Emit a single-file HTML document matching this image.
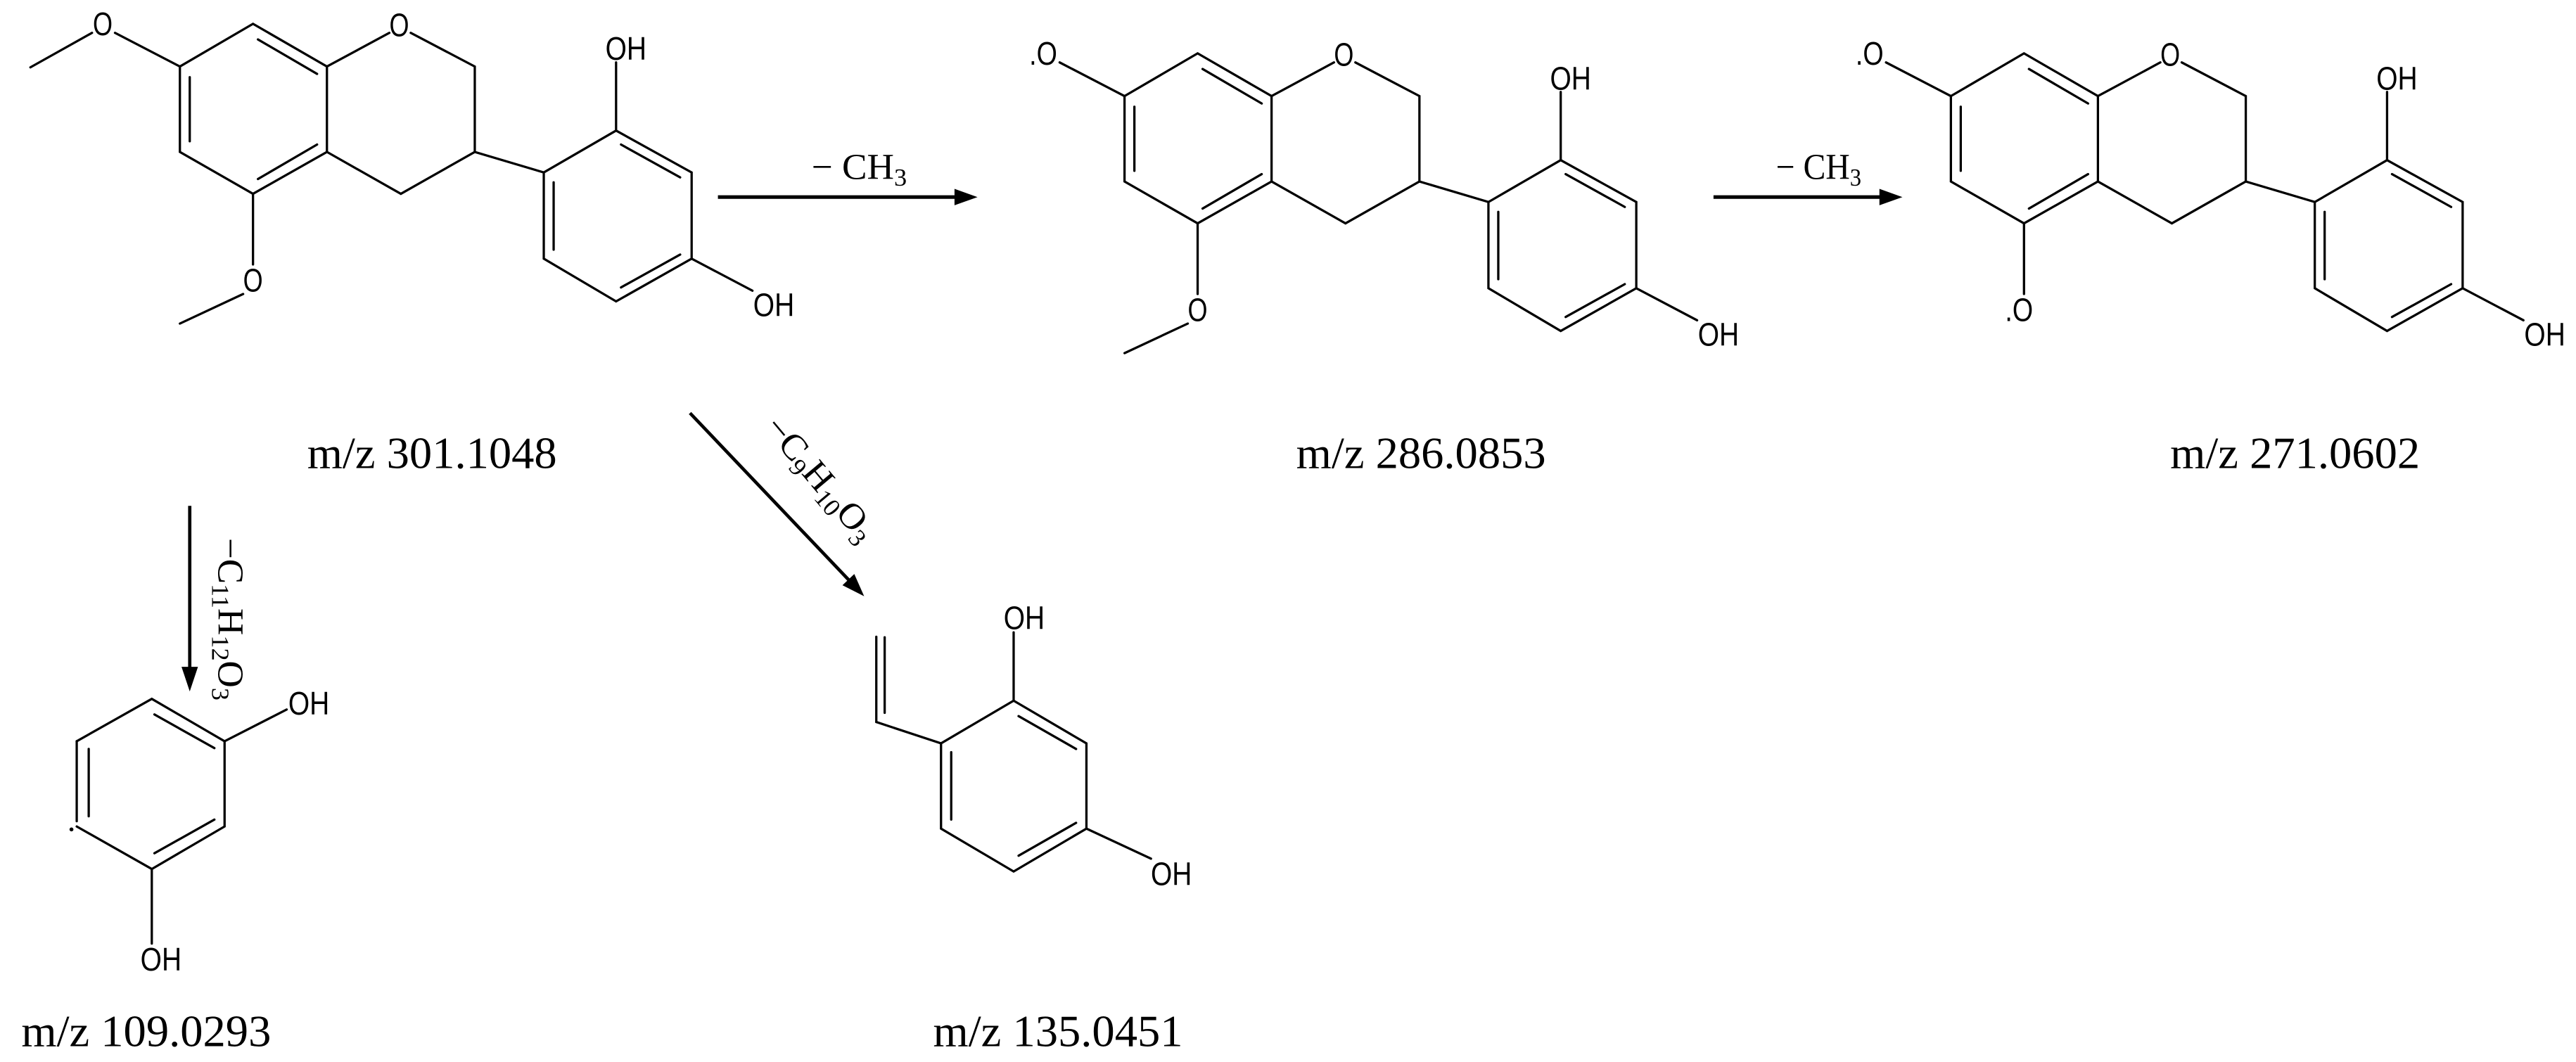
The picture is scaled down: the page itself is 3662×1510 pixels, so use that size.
<!DOCTYPE html>
<html><head><meta charset="utf-8"><style>
html,body{margin:0;padding:0;background:#fff;}
svg{display:block;}
.b line,.b polyline{stroke:#000;stroke-width:1.4;fill:none;stroke-linecap:round;}
.at{font-family:"Liberation Sans",sans-serif;font-size:20px;text-anchor:middle;}
.lb{font-family:"Liberation Serif",serif;font-size:27px;text-anchor:middle;}
.ar{font-family:"Liberation Serif",serif;font-size:22px;}
</style></head><body>
<svg width="3662" height="1510" viewBox="0 0 1568 646.6" preserveAspectRatio="none" xmlns="http://www.w3.org/2000/svg">
<rect width="1568" height="646.6" fill="#fff"/>

<!-- Molecule 1 -->
<g class="b">
<line x1="18.5" y1="41" x2="56" y2="20"/>
<line x1="70" y1="20" x2="109.5" y2="40.5"/>
<polyline points="109.5,40.5 154,14.5 199,40.5 199,92.5 154,118 109.5,92.5 109.5,40.5"/>
<line x1="115.5" y1="47" x2="115.5" y2="86"/>
<line x1="157" y1="24" x2="193" y2="45"/>
<line x1="193" y1="88" x2="157" y2="109"/>
<line x1="199" y1="40.5" x2="237" y2="20"/>
<polyline points="250,20 289,40.5 289,92.5 244,118 199,92.5"/>
<line x1="289" y1="92.5" x2="331" y2="105"/>
<polyline points="331,105 375,79.5 421,105 421,157.5 375,183.5 331,157.5 331,105"/>
<line x1="378" y1="88" x2="414" y2="108"/>
<line x1="337" y1="111" x2="337" y2="152"/>
<line x1="414" y1="155" x2="378" y2="175"/>
<line x1="375" y1="79.5" x2="375" y2="38"/>
<line x1="421" y1="157.5" x2="458" y2="177"/>
<line x1="154" y1="118" x2="154" y2="161"/>
<line x1="148" y1="179" x2="109.5" y2="197"/>
</g>
<text class="at" x="62.5" y="21.5" textLength="12" lengthAdjust="spacingAndGlyphs">O</text>
<text class="at" x="243" y="22" textLength="12" lengthAdjust="spacingAndGlyphs">O</text>
<text class="at" x="154" y="177.5" textLength="12" lengthAdjust="spacingAndGlyphs">O</text>
<text class="at" x="381" y="36.5" textLength="25" lengthAdjust="spacingAndGlyphs">OH</text>
<text class="at" x="471" y="192.5" textLength="25" lengthAdjust="spacingAndGlyphs">OH</text>

<!-- Molecule 2 -->
<g transform="translate(575,18)">
<g class="b">
<line x1="70" y1="20" x2="109.5" y2="40.5"/>
<polyline points="109.5,40.5 154,14.5 199,40.5 199,92.5 154,118 109.5,92.5 109.5,40.5"/>
<line x1="115.5" y1="47" x2="115.5" y2="86"/>
<line x1="157" y1="24" x2="193" y2="45"/>
<line x1="193" y1="88" x2="157" y2="109"/>
<line x1="199" y1="40.5" x2="237" y2="20"/>
<polyline points="250,20 289,40.5 289,92.5 244,118 199,92.5"/>
<line x1="289" y1="92.5" x2="331" y2="105"/>
<polyline points="331,105 375,79.5 421,105 421,157.5 375,183.5 331,157.5 331,105"/>
<line x1="378" y1="88" x2="414" y2="108"/>
<line x1="337" y1="111" x2="337" y2="152"/>
<line x1="414" y1="155" x2="378" y2="175"/>
<line x1="375" y1="79.5" x2="375" y2="38"/>
<line x1="421" y1="157.5" x2="458" y2="177"/>
<line x1="154" y1="118" x2="154" y2="161"/>
<line x1="148" y1="179" x2="109.5" y2="197"/>
</g>
<text class="at" x="60" y="21.5" textLength="17" lengthAdjust="spacingAndGlyphs">.O</text>
<text class="at" x="243" y="22" textLength="12" lengthAdjust="spacingAndGlyphs">O</text>
<text class="at" x="154" y="177.5" textLength="12" lengthAdjust="spacingAndGlyphs">O</text>
<text class="at" x="381" y="36.5" textLength="25" lengthAdjust="spacingAndGlyphs">OH</text>
<text class="at" x="471" y="192.5" textLength="25" lengthAdjust="spacingAndGlyphs">OH</text>
</g>

<!-- Molecule 3 -->
<g transform="translate(1078,18)">
<g class="b">
<line x1="70" y1="20" x2="109.5" y2="40.5"/>
<polyline points="109.5,40.5 154,14.5 199,40.5 199,92.5 154,118 109.5,92.5 109.5,40.5"/>
<line x1="115.5" y1="47" x2="115.5" y2="86"/>
<line x1="157" y1="24" x2="193" y2="45"/>
<line x1="193" y1="88" x2="157" y2="109"/>
<line x1="199" y1="40.5" x2="237" y2="20"/>
<polyline points="250,20 289,40.5 289,92.5 244,118 199,92.5"/>
<line x1="289" y1="92.5" x2="331" y2="105"/>
<polyline points="331,105 375,79.5 421,105 421,157.5 375,183.5 331,157.5 331,105"/>
<line x1="378" y1="88" x2="414" y2="108"/>
<line x1="337" y1="111" x2="337" y2="152"/>
<line x1="414" y1="155" x2="378" y2="175"/>
<line x1="375" y1="79.5" x2="375" y2="38"/>
<line x1="421" y1="157.5" x2="458" y2="177"/>
<line x1="154" y1="118" x2="154" y2="161"/>
</g>
<text class="at" x="60" y="21.5" textLength="17" lengthAdjust="spacingAndGlyphs">.O</text>
<text class="at" x="243" y="22" textLength="12" lengthAdjust="spacingAndGlyphs">O</text>
<text class="at" x="151" y="177.5" textLength="17" lengthAdjust="spacingAndGlyphs">.O</text>
<text class="at" x="381" y="36.5" textLength="25" lengthAdjust="spacingAndGlyphs">OH</text>
<text class="at" x="471" y="192.5" textLength="25" lengthAdjust="spacingAndGlyphs">OH</text>
</g>

<!-- Horizontal arrows -->
<line x1="437" y1="120" x2="584" y2="120" stroke="#000" stroke-width="2.2"/>
<polygon points="595,120 581,115 581,125" fill="#000"/>
<text class="ar" x="494" y="109" textLength="58" lengthAdjust="spacingAndGlyphs">− CH<tspan font-size="15" dy="4">3</tspan></text>
<line x1="1043" y1="120" x2="1147" y2="120" stroke="#000" stroke-width="2.2"/>
<polygon points="1158,120 1144,115 1144,125" fill="#000"/>
<text class="ar" x="1081" y="109" textLength="52" lengthAdjust="spacingAndGlyphs">− CH<tspan font-size="15" dy="4">3</tspan></text>

<!-- Vertical arrow -->
<line x1="115.5" y1="308" x2="115.5" y2="408" stroke="#000" stroke-width="2"/>
<polygon points="115.5,421 110.5,406 120.5,406" fill="#000"/>
<text class="ar" transform="translate(133,377) rotate(90)" x="0" y="0" text-anchor="middle" textLength="99" lengthAdjust="spacingAndGlyphs">−C<tspan font-size="15" dy="4">11</tspan><tspan dy="-4">H</tspan><tspan font-size="15" dy="4">12</tspan><tspan dy="-4">O</tspan><tspan font-size="15" dy="4">3</tspan></text>

<!-- Diagonal arrow -->
<line x1="420" y1="251.5" x2="517" y2="353.5" stroke="#000" stroke-width="2"/>
<polygon points="526,363 512.8,356.3 520,349.5" fill="#000"/>
<text class="ar" transform="translate(494,296) rotate(50)" x="0" y="0" text-anchor="middle" textLength="92" lengthAdjust="spacingAndGlyphs">−C<tspan font-size="15" dy="4">9</tspan><tspan dy="-4">H</tspan><tspan font-size="15" dy="4">10</tspan><tspan dy="-4">O</tspan><tspan font-size="15" dy="4">3</tspan></text>

<!-- Molecule 4 -->
<g class="b">
<polyline points="46.7,451.3 92.4,425.5 136.7,451.3 136.7,503.2 92.4,529.1 46.7,503.2"/>
<line x1="46.7" y1="451.3" x2="46.7" y2="500"/>
<line x1="54" y1="456" x2="54" y2="497"/>
<line x1="94" y1="435" x2="130.5" y2="455.5"/>
<line x1="130.5" y1="499" x2="94" y2="519.5"/>
<line x1="136.7" y1="451.3" x2="174.5" y2="432"/>
<line x1="92.4" y1="529.1" x2="92.4" y2="574.5"/>
</g>
<circle cx="43.5" cy="505" r="1.2" fill="#000"/>
<text class="at" x="188" y="435" font-size="18" textLength="25" lengthAdjust="spacingAndGlyphs">OH</text>
<text class="at" x="98" y="591" font-size="18" textLength="25" lengthAdjust="spacingAndGlyphs">OH</text>

<!-- Molecule 5 -->
<g class="b">
<line x1="533.4" y1="387.7" x2="533.4" y2="439.6"/>
<line x1="538.5" y1="388" x2="538.5" y2="434"/>
<line x1="533.4" y1="439.6" x2="572.8" y2="452.6"/>
<polyline points="572.8,452.6 617,426.6 661.3,452.6 661.3,504.5 617,530.6 572.8,504.5 572.8,452.6"/>
<line x1="620" y1="436" x2="655" y2="456"/>
<line x1="579" y1="458" x2="579" y2="499"/>
<line x1="655" y1="501" x2="620" y2="521"/>
<line x1="617" y1="426.6" x2="617" y2="385"/>
<line x1="661.3" y1="504.5" x2="700.6" y2="522.8"/>
</g>
<text class="at" x="623.4" y="383" font-size="18" textLength="25" lengthAdjust="spacingAndGlyphs">OH</text>
<text class="at" x="713" y="539" font-size="18" textLength="25" lengthAdjust="spacingAndGlyphs">OH</text>

<!-- m/z labels -->
<text class="lb" x="263" y="285" textLength="152" lengthAdjust="spacingAndGlyphs">m/z 301.1048</text>
<text class="lb" x="865" y="285" textLength="152" lengthAdjust="spacingAndGlyphs">m/z 286.0853</text>
<text class="lb" x="1397" y="285" textLength="152" lengthAdjust="spacingAndGlyphs">m/z 271.0602</text>
<text class="lb" x="89" y="637" textLength="152" lengthAdjust="spacingAndGlyphs">m/z 109.0293</text>
<text class="lb" x="644" y="637" textLength="152" lengthAdjust="spacingAndGlyphs">m/z 135.0451</text>
</svg>
</body></html>
